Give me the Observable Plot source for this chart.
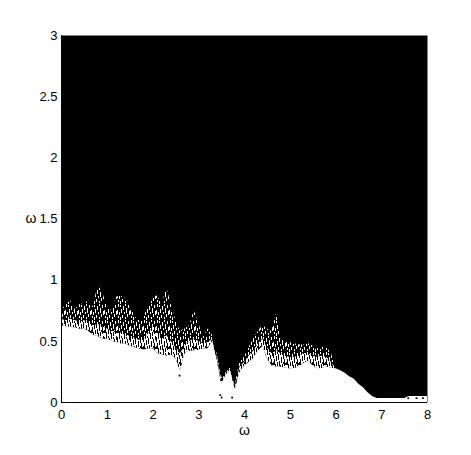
<!DOCTYPE html>
<html>
<head>
<meta charset="utf-8">
<script src="https://cdn.jsdelivr.net/npm/d3@7"></script>
<script src="https://cdn.jsdelivr.net/npm/@observablehq/plot@0.6"></script>
<style>
  html, body { margin: 0; padding: 0; background: #fff; }
  #chart { width: 471px; height: 455px; }
</style>
</head>
<body>
<div id="chart"></div>
<script>
// column positions (ω, horizontal axis)
const omega = [0.0,0.1,0.2,0.3,0.4,0.5,0.6,0.7,0.8,0.9,
  1.0,1.1,1.2,1.3,1.4,1.5,1.6,1.7,1.8,1.9,
  2.0,2.1,2.2,2.3,2.4,2.5,2.6,2.7,2.8,2.9,
  3.0,3.1,3.2,3.3,3.4,3.5,3.6,3.7,3.8,3.9,
  4.0,4.1,4.2,4.3,4.4,4.5,4.6,4.7,4.8,4.9,
  5.0,5.1,5.2,5.3,5.4,5.5,5.6,5.7,5.8,5.9,
  6.0,6.1,6.2,6.3,6.4,6.5,6.6,6.7,6.8,6.9,
  7.0,7.1,7.2,7.3,7.4,7.5,7.6,7.7,7.8,7.9,8.0];

// top of the solid white region
const solidTop = [0.63,0.62,0.62,0.61,0.60,0.60,0.58,0.55,0.54,0.52,
  0.52,0.50,0.49,0.48,0.48,0.46,0.45,0.44,0.43,0.44,
  0.44,0.40,0.39,0.38,0.39,0.36,0.26,0.40,0.42,0.42,
  0.43,0.44,0.44,0.50,0.36,0.15,0.23,0.25,0.11,0.25,
  0.30,0.33,0.36,0.42,0.46,0.36,0.30,0.29,0.29,0.28,
  0.275,0.28,0.29,0.32,0.34,0.30,0.275,0.28,0.29,0.28,
  0.275,0.26,0.24,0.21,0.19,0.15,0.12,0.08,0.05,0.033,
  0.033,0.033,0.033,0.033,0.033,0.033,0.05,0.05,0.05,0.05,0.05];

// mixed fringe: mostly white up to fringeMid, mostly black up to fringeTop (ω 0 … 6)
const fringeMid = [0.68,0.67,0.68,0.67,0.66,0.67,0.65,0.63,0.64,0.62,
  0.60,0.58,0.58,0.57,0.56,0.54,0.52,0.51,0.52,0.56,
  0.62,0.60,0.52,0.55,0.50,0.45,0.40,0.46,0.50,0.52,
  0.50,0.48,0.49,0.52,0.38,0.17,0.25,0.27,0.13,0.29,
  0.33,0.38,0.42,0.48,0.52,0.45,0.40,0.42,0.40,0.38,
  0.37,0.37,0.38,0.40,0.40,0.38,0.37,0.38,0.37,0.33,0.275];
const fringeTop = [0.75,0.80,0.83,0.76,0.80,0.81,0.83,0.78,0.97,0.90,
  0.78,0.75,0.86,0.87,0.85,0.81,0.70,0.67,0.70,0.78,
  0.86,0.87,0.80,0.94,0.80,0.67,0.58,0.60,0.63,0.75,
  0.65,0.53,0.60,0.55,0.40,0.20,0.27,0.28,0.15,0.34,
  0.37,0.45,0.52,0.58,0.63,0.60,0.58,0.73,0.53,0.50,
  0.49,0.48,0.47,0.47,0.48,0.46,0.44,0.45,0.45,0.40,0.275];

// isolated black specks inside the white region
const speckX = [2.58, 3.47, 3.50, 3.73, 7.58, 7.76, 7.90];
const speckY = [0.22, 0.06, 0.04, 0.04, 0.035, 0.035, 0.035];

const xTicks = [0,1,2,3,4,5,6,7,8];
const xTickLabels = ["0","1","2","3","4","5","6","7","8"];
const yTicks = [0,0.5,1,1.5,2,2.5,3];
const yTickLabels = ["0","0.5","1","1.5","2","2.5","3"];
const xLabel = "ω";
const yLabel = "ω";

const solidData = omega.map((x, i) => ({x, y: solidTop[i]}));
const fringeData = fringeMid.map((m, i) => ({x: omega[i], s: solidTop[i], m, t: fringeTop[i]}));
const speckData = speckX.map((x, i) => ({x, y: speckY[i]}));

const chart = Plot.plot({
  width: 471,
  height: 455,
  marginLeft: 61,
  marginRight: 44,
  marginTop: 35,
  marginBottom: 53,
  style: {fontFamily: "'Liberation Sans', Arial, sans-serif", fontSize: "13px", background: "#fff", color: "#000"},
  x: {domain: [0, 8]},
  y: {domain: [0, 3]},
  marks: [
    Plot.frame({fill: "#000", stroke: null}),
    Plot.areaY(solidData, {x: "x", y1: 0, y2: "y", fill: "#fff", curve: "linear"}),
    Plot.areaY(fringeData, {x: "x", y1: "s", y2: "m", fill: "url(#denseWhite)", curve: "linear"}),
    Plot.areaY(fringeData, {x: "x", y1: "m", y2: "t", fill: "url(#sparseWhite)", curve: "linear"}),
    Plot.dot(speckData, {x: "x", y: "y", r: 1, symbol: "square", fill: "#000"}),
    Plot.ruleX([0], {stroke: "#000"}),
    Plot.ruleY([0], {stroke: "#000"}),
    Plot.axisX({ticks: xTicks, tickSize: 0, tickPadding: 7, tickFormat: (d, i) => xTickLabels[i], label: null, fontSize: 13}),
    Plot.axisY({ticks: yTicks, tickSize: 0, tickPadding: 4, tickFormat: (d, i) => yTickLabels[i], label: null, fontSize: 13}),
    Plot.text([xLabel], {frameAnchor: "bottom", dy: 32, fontSize: 14}),
    Plot.text([yLabel], {frameAnchor: "left", dx: -36, fontSize: 14})
  ]
});

// fringe texture patterns (irregular vertical streaks like the reference raster)
const defs = d3.select(chart).insert("defs", ":first-child");
const dense = defs.append("pattern").attr("id", "denseWhite").attr("patternUnits", "userSpaceOnUse")
  .attr("width", 13).attr("height", 16);
dense.append("rect").attr("width", 13).attr("height", 16).attr("fill", "#fff");
[[0,1,1,5],[0,10,1,3],[1,7,1,6],[2,0,1,3],[2,12,1,4],[3,4,1,5],[4,10,1,4],[4,0,1,2],
 [5,2,1,6],[6,9,1,5],[7,0,1,3],[7,13,1,3],[8,5,1,6],[9,12,1,4],[9,1,1,2],[10,3,1,4],
 [10,10,1,2],[11,7,1,7],[12,0,1,4],[12,11,1,2]].forEach(([x,y,w,h]) =>
  dense.append("rect").attr("x", x).attr("y", y).attr("width", w).attr("height", h).attr("fill", "#000"));
const sparse = defs.append("pattern").attr("id", "sparseWhite").attr("patternUnits", "userSpaceOnUse")
  .attr("width", 13).attr("height", 16);
sparse.append("rect").attr("width", 13).attr("height", 16).attr("fill", "#000");
[[0,6,1,4],[1,0,1,3],[1,12,1,2],[2,8,1,3],[3,1,1,2],[3,13,1,3],[4,5,1,4],[5,11,1,3],
 [6,2,1,4],[7,8,1,2],[8,0,1,2],[8,13,1,2],[9,4,1,5],[10,10,1,3],[11,1,1,3],[12,7,1,4]].forEach(([x,y,w,h]) =>
  sparse.append("rect").attr("x", x).attr("y", y).attr("width", w).attr("height", h).attr("fill", "#fff"));

document.getElementById("chart").appendChild(chart);
</script>
</body>
</html>
